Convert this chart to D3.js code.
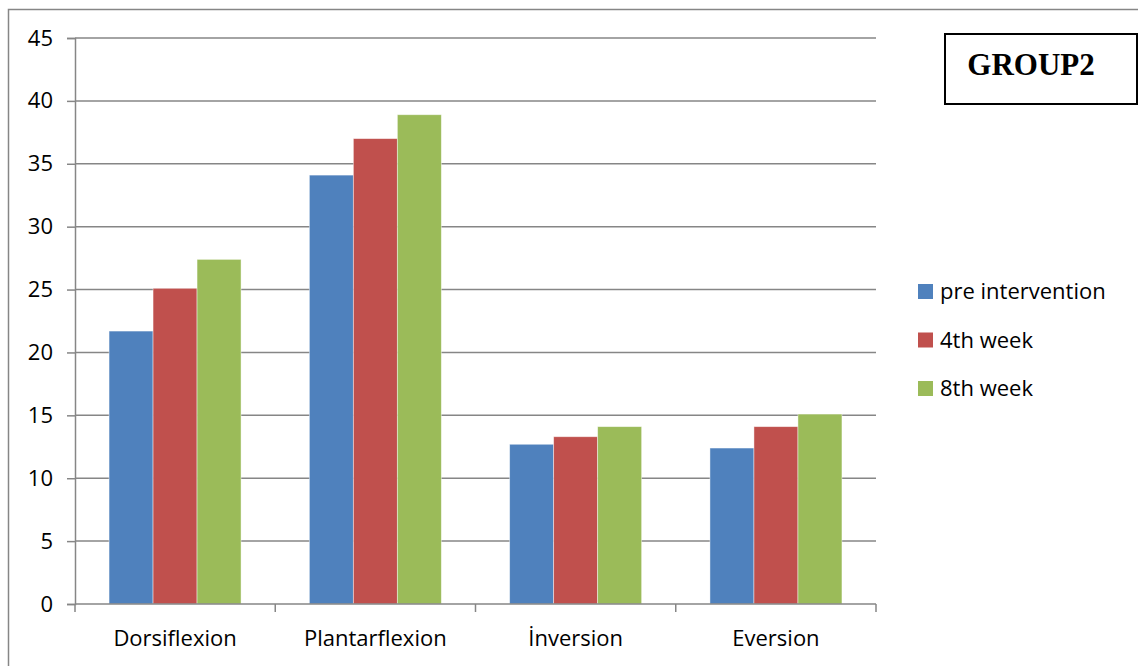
<!DOCTYPE html>
<html>
<head>
<meta charset="utf-8">
<script src="https://cdn.jsdelivr.net/npm/d3@7"></script>
<style>
  html, body { margin: 0; padding: 0; background: #fff; }
  svg { display: block; }
</style>
</head>
<body>
<svg id="chart" width="1138" height="666"></svg>
<script>
// Range of motion per movement, three measurement points
const categories = ["Dorsiflexion", "Plantarflexion", "İnversion", "Eversion"];
const seriesNames = ["pre intervention", "4th week", "8th week"];
const preIntervention = [21.7, 34.1, 12.7, 12.4];
const week4 = [25.1, 37.0, 13.3, 14.1];
const week8 = [27.4, 38.9, 14.1, 15.1];
const yTicks = [0, 5, 10, 15, 20, 25, 30, 35, 40, 45];
const colors = ["#4F81BD", "#C0504D", "#9BBB59"];

const seriesValues = [preIntervention, week4, week8];
const rows = categories.map((c, i) => ({
  category: c,
  values: seriesNames.map((s, j) => ({ series: s, value: seriesValues[j][i], idx: j }))
}));

const svg = d3.select("#chart");
const font = "'Open Sans', 'Noto Sans', sans-serif";

// outer chart frame
svg.append("rect")
  .attr("x", 8.5).attr("y", 9.5)
  .attr("width", 1140).attr("height", 680)
  .attr("fill", "none").attr("stroke", "#868686").attr("stroke-width", 1.5);

const plot = { left: 75, right: 876, top: 38, bottom: 604 };

const y = d3.scaleLinear().domain([0, 45]).range([plot.bottom, plot.top]);
const x0 = d3.scaleBand().domain(categories).range([plot.left, plot.right])
  .paddingInner(0.341).paddingOuter(0.17);
const x1 = d3.scaleBand().domain(seriesNames).range([0, x0.bandwidth()]);

// horizontal gridlines
svg.append("g")
  .selectAll("line")
  .data(yTicks.filter(t => t > 0))
  .join("line")
  .attr("x1", plot.left).attr("x2", plot.right)
  .attr("y1", d => y(d)).attr("y2", d => y(d))
  .attr("stroke", "#868686").attr("stroke-width", 1.5);

// bars
const groups = svg.append("g")
  .selectAll("g")
  .data(rows)
  .join("g")
  .attr("transform", d => `translate(${x0(d.category)},0)`);

groups.selectAll("rect")
  .data(d => d.values)
  .join("rect")
  .attr("x", d => x1(d.series))
  .attr("y", d => y(d.value))
  .attr("width", x1.bandwidth())
  .attr("height", d => y(0) - y(d.value))
  .attr("fill", d => colors[d.idx])
  .attr("stroke", "rgba(255,255,255,0.55)")
  .attr("stroke-width", 0.8);

// y axis
const yAxis = d3.axisLeft(y).tickValues(yTicks).tickSize(8).tickPadding(14);
const gy = svg.append("g").attr("transform", `translate(${plot.left},0)`).call(yAxis);
gy.select(".domain").attr("stroke", "#868686").attr("stroke-width", 1.5);
gy.selectAll(".tick line").attr("stroke", "#868686").attr("stroke-width", 1.5);
gy.selectAll(".tick text")
  .attr("font-family", font).attr("font-size", 22).attr("fill", "#000");

// x axis with boundary ticks between categories
const boundaries = d3.range(categories.length + 1)
  .map(i => plot.left + i * (plot.right - plot.left) / categories.length);
const gx = svg.append("g");
gx.append("line")
  .attr("x1", plot.left).attr("x2", plot.right)
  .attr("y1", y(0)).attr("y2", y(0))
  .attr("stroke", "#868686").attr("stroke-width", 1.5);
gx.selectAll("line.tick")
  .data(boundaries)
  .join("line")
  .attr("class", "tick")
  .attr("x1", d => d).attr("x2", d => d)
  .attr("y1", y(0)).attr("y2", y(0) + 8)
  .attr("stroke", "#868686").attr("stroke-width", 1.5);
gx.selectAll("text")
  .data(categories)
  .join("text")
  .attr("x", d => x0(d) + x0.bandwidth() / 2)
  .attr("y", 646)
  .attr("text-anchor", "middle")
  .attr("font-family", font).attr("font-size", 22).attr("fill", "#000")
  .text(d => d);

// legend
const legend = svg.append("g")
  .selectAll("g")
  .data(seriesNames)
  .join("g")
  .attr("transform", (d, i) => `translate(918, ${284 + i * 48.5})`);
legend.append("rect")
  .attr("width", 15).attr("height", 15)
  .attr("fill", (d, i) => colors[i]);
legend.append("text")
  .attr("x", 22).attr("y", 15)
  .attr("font-family", font).attr("font-size", 22).attr("fill", "#000")
  .text(d => d);

// title box
svg.append("rect")
  .attr("x", 945).attr("y", 34).attr("width", 192).attr("height", 70)
  .attr("fill", "#fff").attr("stroke", "#000").attr("stroke-width", 2);
svg.append("text")
  .attr("x", 1031).attr("y", 75)
  .attr("text-anchor", "middle")
  .attr("font-family", "'Liberation Serif', 'DejaVu Serif', serif")
  .attr("font-weight", "bold").attr("font-size", 31).attr("fill", "#000")
  .text("GROUP2");
</script>
</body>
</html>
